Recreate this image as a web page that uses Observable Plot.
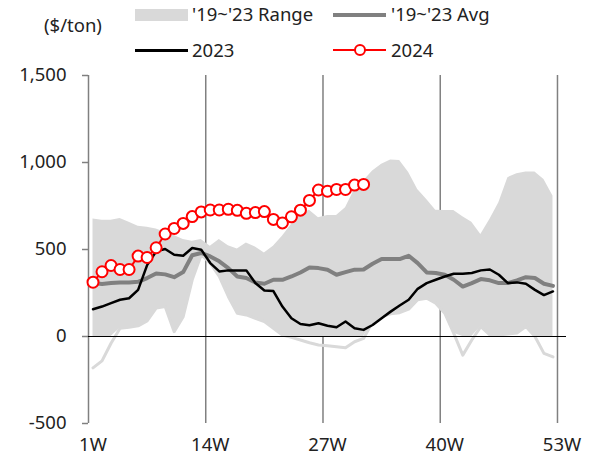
<!DOCTYPE html>
<html>
<head>
<meta charset="utf-8">
<script src="https://cdn.jsdelivr.net/npm/d3@7"></script>
<script src="https://cdn.jsdelivr.net/npm/@observablehq/plot@0.6"></script>
<style>
  html, body { margin: 0; padding: 0; background: #fff; }
  #wrap { position: relative; width: 604px; height: 462px; font-family: "Noto Sans", sans-serif; color: #222; }
  .lg { position: absolute; font-size: 18.5px; line-height: 20px; white-space: nowrap; }
  .sw { position: absolute; }
</style>
</head>
<body>
<div id="wrap">
  <div class="lg" style="left:44px; top:15px;">($/ton)</div>
  <div class="sw" style="left:135px; top:9px; width:53px; height:12px; background:#d9d9d9;"></div>
  <div class="lg" style="left:192px; top:4px;">'19~'23 Range</div>
  <div class="sw" style="left:333px; top:13px; width:53px; height:4px; background:#808080;"></div>
  <div class="lg" style="left:391px; top:4px;">'19~'23 Avg</div>
  <div class="sw" style="left:135px; top:49px; width:53px; height:2.5px; background:#000;"></div>
  <div class="lg" style="left:192px; top:40px;">2023</div>
  <div class="sw" style="left:333px; top:49px; width:53px; height:2px; background:#ff0000;"></div>
  <div class="sw" style="left:354px; top:44px; width:8px; height:8px; border:2px solid #ff0000; border-radius:50%; background:#fff;"></div>
  <div class="lg" style="left:391px; top:40px;">2024</div>
  <div id="chart" style="position:absolute; left:0; top:0;"></div>
</div>
<script>
const weeks = [1,2,3,4,5,6,7,8,9,10,11,12,13,14,15,16,17,18,19,20,21,22,23,24,25,26,
               27,28,29,30,31,32,33,34,35,36,37,38,39,40,41,42,43,44,45,46,47,48,49,50,51,52];
const rangeHi = [676,668,668,678,657,634,628,618,599,580,557,547,557,518,557,522,503,538,515,480,518,576,643,701,725,682,
                 695,695,740,845,893,951,990,1014,1012,942,845,788,726,724,724,688,657,586,672,769,913,936,945,945,903,807];
const rangeLo = [-180,-140,-39,47,53,61,89,163,172,28,114,326,470,422,345,230,134,124,105,86,47,9,-5,-20,-36,-49,
                 -53,-59,-65,-30,-11,84,114,130,137,157,211,220,191,134,18,-107,-20,57,9,9,14,20,57,0,-97,-117];
const avg = [307,302,307,311,311,314,336,362,357,341,370,467,480,460,432,393,345,336,310,303,326,326,345,368,397,393,
             384,355,370,384,385,418,445,445,445,464,422,368,365,355,326,287,307,330,323,307,307,323,341,336,303,291];
const y2023 = [157,172,192,211,220,268,410,489,503,470,464,509,499,422,374,380,380,380,307,264,261,172,105,72,65,76,
               62,53,86,47,38,66,105,143,178,211,274,307,326,345,361,361,365,380,385,355,307,311,303,268,238,259];
const y2024 = [312,372,408,385,385,462,454,510,589,621,650,689,716,727,727,731,725,708,712,718,673,653,688,726,782,842,
               835,845,845,870,874];
const xTicks = [1,14,27,40,53];
const gridWeeks = [13.5,26.5,39.5,52.5];
const yTicks = [-500,0,500,1000,1500];

const rows = weeks.map((w,i) => ({w, hi: rangeHi[i], lo: rangeLo[i], avg: avg[i], v23: y2023[i]}));
const rows24 = y2024.map((v,i) => ({w: weeks[i], v}));

const chart = Plot.plot({
  width: 604,
  height: 462,
  marginLeft: 88,
  marginRight: 38,
  marginTop: 75,
  marginBottom: 39,
  style: {fontFamily: "'Noto Sans', sans-serif", fontSize: "18.5px", color: "#222", background: "transparent"},
  x: {domain: [0.5, 53.5]},
  y: {domain: [-500, 1500]},
  marks: [
    Plot.ruleX(gridWeeks, {stroke: "#808080", strokeWidth: 1.5}),
    Plot.areaY(rows, {x: "w", y1: d => Math.max(d.lo, 0), y2: "hi", fill: "#d9d9d9"}),
    Plot.lineY(rows, {x: "w", y: "lo", stroke: "#d9d9d9", strokeWidth: 3}),
    Plot.ruleX([0.5], {stroke: "#808080", strokeWidth: 1.5}),
    Plot.ruleY([0], {stroke: "#000", strokeWidth: 1.2}),
    Plot.axisY(yTicks, {tickSize: 6, tickPadding: 16, stroke: "#808080", strokeWidth: 1.5, fill: "#222",
      tickFormat: d => d3.format(",")(d).replace("−", "-"), label: null}),
    Plot.axisX(xTicks, {tickSize: 0, tickPadding: 14, fill: "#222", tickFormat: d => d + "W", label: null}),
    Plot.lineY(rows, {x: "w", y: "avg", stroke: "#808080", strokeWidth: 4}),
    Plot.lineY(rows, {x: "w", y: "v23", stroke: "#000", strokeWidth: 2.5}),
    Plot.lineY(rows24, {x: "w", y: "v", stroke: "#ff0000", strokeWidth: 2}),
    Plot.dot(rows24, {x: "w", y: "v", r: 5.5, fill: "#fff", stroke: "#ff0000", strokeWidth: 2})
  ]
});
document.getElementById("chart").appendChild(chart);
</script>
</body>
</html>
